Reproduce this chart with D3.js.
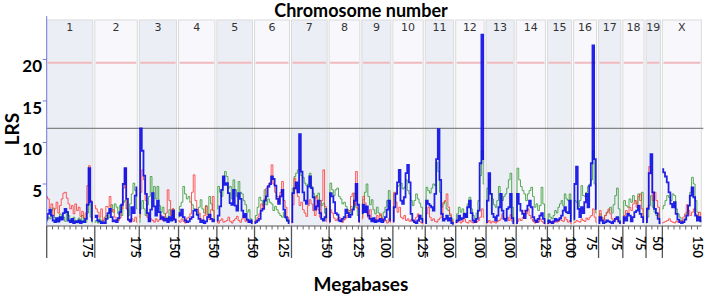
<!DOCTYPE html>
<html>
<head>
<meta charset="utf-8">
<script src="https://cdn.jsdelivr.net/npm/d3@7"></script>
<style>
  html, body { margin: 0; padding: 0; background: #fff; }
  svg { display: block; }
</style>
</head>
<body>
<svg id="chart" width="708" height="297"></svg>
<script>
// chromosomes and their lengths (Mb)
var chromosomes = ["1","2","3","4","5","6","7","8","9","10","11","12","13","14","15","16","17","18","19","X"];
var chrLengthMb = [197.2,181.7,159.6,155.6,152.5,149.5,152.5,131.7,124.1,130.0,121.8,121.3,120.3,125.2,103.5,98.3,95.3,90.8,61.3,166.6];

// last Mb tick label under each chromosome
var mbTickLabels = [175,175,150,150,150,125,150,125,100,125,100,100,100,125,100,75,75,75,50,150];

var lrsTicks = [5,10,15,20];
var significantLRS = 19.6;
var suggestiveLRS = 11.7;

// LRS values, evenly spaced along each chromosome
var blueLRS = [
  [0.8,1.4,1.9,1.2,0.6,0.4,0.9,0.5,1.0,0.7,1.5,2.0,1.6,0.6,0.4,0.8,0.3,0.5,0.4,0.6,0.3,0.5,0.4,0.8,2.5,6.9,2.8,0.6],
  [1.0,1.2,0.6,0.5,0.3,0.4,0.3,0.8,1.5,2.0,1.0,0.5,0.6,0.4,0.9,1.6,2.5,5.0,6.9,3.2,0.7,0.5,2.2,1.5,3.6,4.6],
  [1.5,11.7,9.0,6.0,3.8,1.5,0.5,1.9,3.9,2.3,1.2,3.0,1.6,0.8,1.0,0.6,0.8,0.4,1.0,0.6,1.8,0.7,0.4],
  [1.5,1.2,1.9,1.0,0.6,0.4,0.5,0.8,1.0,1.8,1.9,1.3,0.8,0.4,0.6,0.3,0.5,1.0,1.3,0.8,0.5,0.7],
  [0.6,1.2,2.3,4.3,5.9,4.9,5.1,3.9,2.7,2.5,4.3,2.4,1.8,3.9,3.2,1.8,1.0,1.4,0.7,0.4,0.6,0.3],
  [0.3,0.4,0.6,0.8,1.8,2.0,3.0,3.5,4.7,5.0,5.9,5.6,4.8,3.2,2.6,3.5,4.3,1.9,1.0,0.6,0.3],
  [0.4,3.9,4.5,5.2,4.0,11.0,6.5,4.0,3.0,2.6,4.7,5.9,4.5,3.4,1.9,2.3,3.0,1.5,0.8,0.6,1.0,2.0],
  [0.5,3.9,3.5,2.8,1.5,1.3,0.6,0.5,0.8,1.0,1.9,1.5,1.0,1.3,1.9,3.0,5.0,2.5,0.5],
  [1.5,2.5,1.6,2.3,1.2,0.8,0.5,0.9,0.4,0.6,0.5,0.8,0.4,0.7,1.0,1.9,3.0,0.6],
  [0.5,2.2,3.8,5.2,6.7,3.0,2.6,3.4,6.3,7.3,5.2,1.4,0.6,0.4,0.3,0.6,1.2,0.8,0.4],
  [0.3,3.0,2.6,2.4,2.2,1.8,3.8,8.0,11.6,5.5,1.4,0.6,0.8,1.2,0.6,0.9,0.3,0.2],
  [0.4,0.6,1.2,0.7,0.9,1.4,1.0,2.2,3.0,1.5,0.6,0.4,0.8,1.8,7.5,23.0,8.0],
  [0.4,3.0,6.3,3.8,1.4,1.0,0.6,1.2,2.2,3.8,1.8,0.8,0.6,2.0,2.2,3.8,0.9,0.3],
  [0.3,3.8,2.6,1.8,1.4,0.9,1.8,2.4,3.0,2.2,1.0,0.6,0.4,0.8,1.2,1.5,0.8,0.3],
  [0.3,0.6,0.4,0.3,0.5,0.8,0.6,0.7,0.9,1.2,1.8,2.2,1.6,1.5,3.0,0.5],
  [0.8,5.0,7.1,2.0,1.0,2.2,1.5,2.8,3.8,2.2,4.8,7.5,21.7,8.0,2.0],
  [0.3,1.0,0.6,0.3,0.4,0.6,0.5,0.4,0.3,0.5,0.8,1.0,0.5,0.3],
  [0.3,1.0,0.6,1.4,1.2,0.5,1.0,1.6,1.8,2.4,1.4,1.0,0.4],
  [0.4,2.0,6.3,8.6,4.0,2.0,1.5,0.8,0.3],
  [6.8,6.4,5.9,5.2,4.0,2.6,2.2,2.8,1.4,0.7,0.4,0.3,0.4,0.7,1.2,2.4,3.6,4.6,3.4,1.2,0.6,1.0,0.5]
];

var greenLRS = [
  [0.5,1.0,0.8,1.8,2.1,0.9,0.6,0.4,1.4,0.8,1.0,0.5,1.7,1.2,0.6,0.4,1.0,0.6,0.3,0.9,0.5,1.2,0.6,0.4,1.5,2.6,1.0,0.4],
  [0.4,0.6,0.3,0.8,0.5,0.6,1.0,1.2,0.9,2.0,2.5,1.6,2.6,2.2,1.4,2.4,1.2,2.8,3.0,2.0,1.2,2.6,3.8,5.1,4.2,2.0],
  [0.4,2.0,3.0,2.0,1.2,2.5,3.5,5.9,4.0,4.7,3.2,4.7,2.4,1.6,2.2,1.4,1.0,0.8,1.9,1.2,2.0,0.7,0.5],
  [1.0,2.3,2.8,4.7,3.8,3.2,3.5,2.8,2.5,2.0,1.9,1.2,2.2,3.1,2.0,1.5,2.4,1.3,3.5,2.6,1.8,0.8],
  [2.0,4.7,4.0,3.5,5.5,6.5,5.9,4.5,4.7,3.2,5.5,4.3,3.5,5.3,4.0,3.8,3.0,2.5,1.6,1.9,0.8,0.5],
  [0.5,1.2,2.2,3.4,3.0,2.4,4.3,2.5,3.2,2.8,2.6,1.8,2.3,1.9,1.5,1.2,1.0,1.6,0.8,0.5,0.4],
  [0.5,4.5,5.9,6.3,6.7,7.9,6.0,5.8,5.1,4.8,5.0,6.3,4.7,3.9,3.3,3.6,3.9,3.0,2.4,2.7,1.5,0.8],
  [0.5,5.1,4.3,3.6,4.3,4.5,3.5,3.2,2.6,2.8,2.3,1.9,1.5,2.3,2.0,3.9,2.2,1.2,0.4],
  [1.0,3.1,4.0,5.0,3.5,2.5,3.1,1.9,1.4,2.2,1.5,1.2,1.0,1.6,2.2,3.0,4.2,0.8],
  [0.6,3.8,4.0,4.7,4.9,5.1,4.4,4.6,5.5,4.2,3.8,3.0,2.4,3.0,3.8,3.2,2.7,2.2,0.6],
  [0.5,4.6,4.2,3.9,4.5,5.0,4.8,7.6,6.5,4.0,2.2,2.6,2.9,2.0,1.8,1.2,0.8,0.3],
  [0.5,1.4,2.2,1.6,2.0,1.5,1.0,2.6,3.4,2.0,1.2,0.8,1.5,3.0,6.0,9.0,5.0],
  [0.4,4.5,5.5,3.8,3.2,2.5,2.2,3.0,4.7,3.6,3.0,3.5,3.8,4.5,5.5,6.3,2.2,0.6],
  [0.5,6.9,5.5,4.7,4.2,3.8,3.0,3.8,4.2,4.6,3.5,2.2,2.6,1.8,2.4,4.6,2.6,0.4],
  [0.5,1.4,1.0,0.8,1.2,1.8,1.5,2.2,2.6,3.0,2.4,3.8,3.2,3.0,3.8,0.8],
  [0.6,3.0,2.8,2.2,3.0,4.8,3.6,3.5,4.0,4.7,5.0,5.5,9.0,5.0,1.5],
  [0.4,1.4,0.9,0.6,1.2,1.6,1.8,2.2,1.5,2.5,3.6,4.5,2.0,0.6],
  [0.5,3.0,2.4,2.2,3.2,2.8,3.6,3.0,2.6,3.8,3.0,4.0,1.2],
  [0.3,1.0,2.4,3.6,2.2,1.6,1.2,1.4,0.3],
  [2.0,2.4,3.0,3.6,3.4,3.0,3.8,3.6,2.0,1.4,1.0,0.6,0.4,0.8,1.6,2.4,4.0,5.8,5.0,3.0,1.6,1.0,0.5]
];

var redLRS = [
  [3.5,3.2,2.1,2.6,1.2,2.0,2.8,1.5,2.4,3.2,3.9,4.0,3.3,2.6,2.0,2.4,1.4,2.6,1.8,2.2,1.1,1.7,0.9,1.5,4.8,7.2,3.0,0.9],
  [2.4,2.0,1.6,1.0,2.0,0.6,0.8,2.3,2.2,3.5,1.7,1.9,1.0,0.7,0.6,0.9,2.0,4.5,6.8,2.0,0.6,0.4,0.8,0.5,1.0,0.4],
  [1.0,4.0,6.7,5.5,3.0,1.0,0.5,0.8,0.6,0.4,0.8,0.5,0.7,1.2,0.6,0.9,1.5,4.3,3.0,1.2,2.0,0.8,0.5],
  [0.6,0.4,0.8,0.5,0.3,0.9,1.0,1.4,4.0,6.1,3.0,1.9,1.5,0.8,0.6,1.2,2.3,1.0,0.7,1.9,3.5,1.0],
  [0.5,0.3,0.6,0.8,0.4,0.5,0.6,1.0,0.5,0.3,0.6,0.8,1.1,0.6,0.4,0.8,1.2,0.5,0.7,0.4,0.5,0.3],
  [0.4,0.6,1.0,1.4,2.6,2.0,3.2,4.5,4.8,5.2,7.3,5.0,4.0,3.5,2.8,4.0,5.3,3.0,2.2,1.0,0.5],
  [0.3,2.5,5.7,4.3,3.5,2.4,2.8,1.9,1.5,1.1,2.4,3.1,2.6,1.8,1.2,3.5,1.9,1.0,3.0,6.7,2.3,0.5],
  [0.3,1.9,1.5,0.9,0.6,0.8,1.0,0.5,0.4,0.7,0.9,1.2,1.8,3.5,3.9,2.5,6.5,2.0,0.4],
  [0.8,3.5,2.7,1.5,0.9,1.9,0.6,0.8,0.5,1.2,0.7,1.4,0.9,0.5,0.6,0.3,0.8,0.4],
  [0.4,4.0,2.8,1.6,2.2,1.0,0.8,1.2,0.6,0.8,0.5,0.7,0.6,0.4,1.0,1.4,0.5,0.3,0.2],
  [0.3,1.4,2.2,1.0,0.6,0.8,0.5,0.4,0.7,0.9,1.5,2.8,3.0,3.8,2.2,1.4,0.6,0.3],
  [0.3,0.4,0.6,0.3,0.5,0.8,0.4,0.3,0.6,0.4,0.3,0.5,0.4,0.6,1.0,2.0,1.0],
  [0.2,0.4,0.6,0.3,0.5,0.4,0.3,0.5,0.6,0.8,1.4,0.9,0.7,1.0,0.6,1.3,0.5,0.2],
  [0.2,0.5,0.8,0.6,1.0,1.8,1.4,2.0,1.2,0.8,0.5,0.3,0.6,0.4,0.8,0.5,0.3,0.2],
  [0.2,0.3,0.5,0.4,0.3,0.6,0.4,0.5,0.8,0.6,0.5,1.0,0.7,0.4,0.6,0.2],
  [0.3,0.4,0.6,0.5,0.4,0.8,0.6,0.5,0.9,0.7,1.0,1.2,2.0,1.0,0.4],
  [0.6,1.8,1.0,0.6,1.2,1.5,2.0,1.4,0.8,0.6,0.9,0.7,0.4,0.3],
  [0.3,1.2,1.8,1.5,2.2,1.8,2.6,3.0,2.2,3.5,3.8,2.0,0.5],
  [0.5,2.2,7.1,6.2,3.0,4.0,3.0,2.2,0.4],
  [0.3,0.4,0.5,0.6,0.8,0.5,0.4,0.3,0.5,0.4,0.6,0.5,1.0,1.4,2.5,1.8,1.2,1.6,2.0,1.4,1.0,1.6,0.6]
];

// SETUP
var svg = d3.select('#chart');
var plotLeft = 46.7, plotRight = 701.3;
var plotTop = 20, plotBottom = 226;
var gapMb = 8.5;
var fontBold = 'Lato, "Open Sans", sans-serif';

// cumulative offsets of each chromosome along the genome axis
var acc = 0;
var offsets = chrLengthMb.map(function (len) {
  var o = acc;
  acc += len + gapMb;
  return o;
});
var totalMb = acc - gapMb;

var x = d3.scaleLinear().domain([0, totalMb]).range([plotLeft, plotRight]);
var y = d3.scaleLinear().domain([0, 24.75]).range([225.5, plotTop]);

// chromosome panels
var panels = svg.append('g').attr('class', 'panels')
  .selectAll('g')
  .data(chromosomes)
  .enter().append('g');

panels.append('rect')
  .attr('x', function (d, i) { return x(offsets[i]); })
  .attr('y', plotTop)
  .attr('width', function (d, i) { return x(offsets[i] + chrLengthMb[i]) - x(offsets[i]); })
  .attr('height', plotBottom - plotTop)
  .attr('fill', function (d, i) { return i % 2 === 0 ? '#eceef6' : '#f8f8fc'; })
  .attr('stroke', '#dadada')
  .attr('stroke-width', 1);

panels.append('text')
  .attr('x', function (d, i) { return x(offsets[i] + chrLengthMb[i] / 2); })
  .attr('y', 31)
  .attr('text-anchor', 'middle')
  .style('font-family', 'Verdana, "DejaVu Sans", sans-serif')
  .style('font-size', '11px')
  .attr('fill', '#333')
  .text(function (d) { return d; });

// significance line (pink), broken at the panel gaps
panels.append('line')
  .attr('x1', function (d, i) { return x(offsets[i]) + 1; })
  .attr('x2', function (d, i) { return x(offsets[i] + chrLengthMb[i]) - 1; })
  .attr('y1', y(significantLRS))
  .attr('y2', y(significantLRS))
  .attr('stroke', '#f0b9bd')
  .attr('stroke-width', 2);

// suggestive line (gray)
svg.append('line')
  .attr('x1', plotLeft)
  .attr('x2', plotRight + 2)
  .attr('y1', y(suggestiveLRS))
  .attr('y2', y(suggestiveLRS))
  .attr('stroke', '#858585')
  .attr('stroke-width', 1.2);

// traces
var line = d3.line()
  .curve(d3.curveStep)
  .x(function (d) { return x(d[0]); })
  .y(function (d) { return y(d[1]); });

function tracePoints(values, i) {
  var step = chrLengthMb[i] / (values.length - 1);
  return values.map(function (v, j) { return [offsets[i] + j * step, v]; });
}

function drawSeries(series, color, width, opacity) {
  svg.append('g')
    .selectAll('path')
    .data(series)
    .enter().append('path')
    .attr('d', function (values, i) { return line(tracePoints(values, i)); })
    .attr('fill', 'none')
    .attr('stroke', color)
    .attr('stroke-width', width)
    .attr('stroke-opacity', opacity);
}

drawSeries(greenLRS, '#3a9a3a', 1, 0.85);
drawSeries(redLRS, '#ff3333', 1, 0.8);
drawSeries(blueLRS, '#0a0ae6', 1.8, 0.9);

// y axis
var yAxis = svg.append('g');
yAxis.append('line')
  .attr('x1', plotLeft).attr('x2', plotLeft)
  .attr('y1', 16).attr('y2', plotBottom)
  .attr('stroke', '#7a7ae0').attr('stroke-width', 1);
yAxis.selectAll('line.tick')
  .data(lrsTicks)
  .enter().append('line')
  .attr('class', 'tick')
  .attr('x1', plotLeft - 4).attr('x2', plotLeft)
  .attr('y1', function (d) { return y(d); })
  .attr('y2', function (d) { return y(d); })
  .attr('stroke', '#7a7ae0');
yAxis.selectAll('text')
  .data(lrsTicks)
  .enter().append('text')
  .attr('x', 42)
  .attr('y', function (d) { return y(d) + 13; })
  .attr('text-anchor', 'end')
  .style('font-family', fontBold)
  .style('font-weight', 'bold')
  .style('font-size', '17px')
  .text(function (d) { return d; });

svg.append('text')
  .attr('transform', 'translate(19,129) rotate(-90)')
  .attr('text-anchor', 'middle')
  .style('font-family', fontBold)
  .style('font-weight', 'bold')
  .style('font-size', '19px')
  .text('LRS');

// x axis (megabases)
var xAxis = svg.append('g');
xAxis.append('line')
  .attr('x1', plotLeft).attr('x2', plotRight)
  .attr('y1', plotBottom).attr('y2', plotBottom)
  .attr('stroke', '#666').attr('stroke-width', 1);

chromosomes.forEach(function (chr, i) {
  for (var m = 25; m < chrLengthMb[i]; m += 25) {
    xAxis.append('line')
      .attr('x1', x(offsets[i] + m)).attr('x2', x(offsets[i] + m))
      .attr('y1', plotBottom).attr('y2', plotBottom + 3.5)
      .attr('stroke', '#666');
  }
});

xAxis.selectAll('line.chr-start')
  .data(chromosomes)
  .enter().append('line')
  .attr('class', 'chr-start')
  .attr('x1', function (d, i) { return x(offsets[i]); })
  .attr('x2', function (d, i) { return x(offsets[i]); })
  .attr('y1', plotBottom)
  .attr('y2', 258)
  .attr('stroke', '#555')
  .attr('stroke-width', 1.3);

xAxis.selectAll('text')
  .data(mbTickLabels)
  .enter().append('text')
  .attr('transform', function (d, i) {
    return 'translate(' + x(offsets[i] + d) + ',236) rotate(90)';
  })
  .attr('dy', '0.35em')
  .style('font-family', fontBold)
  .style('font-size', '12.5px')
  .style('font-weight', '600')
  .text(function (d) { return d; });

// titles
svg.append('text')
  .attr('x', 361).attr('y', 17)
  .attr('text-anchor', 'middle')
  .style('font-family', fontBold)
  .style('font-weight', 'bold')
  .style('font-size', '18px')
  .text('Chromosome number');

svg.append('text')
  .attr('x', 361).attr('y', 291)
  .attr('text-anchor', 'middle')
  .style('font-family', fontBold)
  .style('font-weight', 'bold')
  .style('font-size', '19px')
  .text('Megabases');
</script>
</body>
</html>
